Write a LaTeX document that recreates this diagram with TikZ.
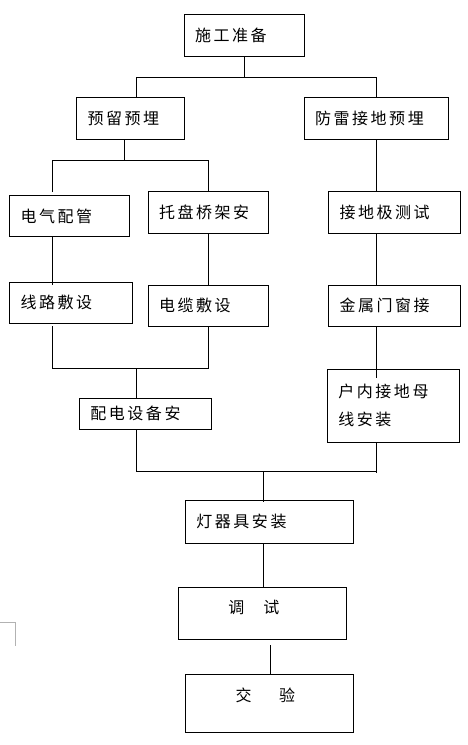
\documentclass[tikz,border=0pt]{standalone}
\usepackage{fontspec}
\newfontfamily\cjk[LetterSpace=16]{Noto Sans CJK SC}
\begin{document}
\begin{tikzpicture}[x=1pt,y=-1pt,
  box/.style={draw, line width=0.8pt, fill=white, anchor=north west, outer sep=0pt,
    inner xsep=11pt, inner ysep=0pt, align=left,
    font=\cjk\fontsize{16}{28}\selectfont},
  link/.style={line width=0.8pt},
  cornermark/.style={draw=gray!60, line width=0.8pt}]
\useasboundingbox (0,0) rectangle (468,745);
% boxes
\node[box, minimum width=120pt, text width=98pt, minimum height=42pt] (n1) at (184,14) {施工准备};
\node[box, minimum width=107.5pt, text width=85.5pt, minimum height=41.5pt] (n2) at (76.5,97.5) {预留预埋};
\node[box, minimum width=144pt, text width=122pt, minimum height=41.5pt] (n3) at (304,97.5) {防雷接地预埋};
\node[box, minimum width=120pt, text width=98pt, minimum height=41pt] (n4) at (9.5,195.5) {电气配管};
\node[box, minimum width=120.5pt, text width=98.5pt, minimum height=41.5pt] (n5) at (148,191.5) {托盘桥架安};
\node[box, minimum width=132pt, text width=110pt, minimum height=41.5pt] (n6) at (328.5,191.5) {接地极测试};
\node[box, minimum width=123pt, text width=101pt, minimum height=41pt] (n7) at (9.5,282.3) {线路敷设};
\node[box, minimum width=120.5pt, text width=98.5pt, minimum height=41pt] (n8) at (148,285.3) {电缆敷设};
\node[box, minimum width=132pt, text width=110pt, minimum height=41pt] (n9) at (328.5,285.3) {金属门窗接};
\node[box, minimum width=132pt, text width=110pt, minimum height=31pt] (n10) at (79.3,398.3) {配电设备安};
\node[box, minimum width=132pt, text width=110pt, minimum height=73pt] (n11) at (327.3,369.3) {户内接地母\\线安装};
\node[box, minimum width=168pt, text width=146pt, minimum height=43pt] (n12) at (185.3,500.3) {灯器具安装};
\node[box, minimum width=168pt, text width=146pt, minimum height=51.6pt, text height=12pt, text depth=12pt] (n13) at (178.3,587.7) {\hspace*{39pt}调\hspace{19pt}试};
\node[box, minimum width=168pt, text width=146pt, minimum height=58pt, text height=10pt, text depth=14pt] (n14) at (185.3,674.3) {\hspace*{39.4pt}交\hspace{27.5pt}验};
% junction coordinates
\coordinate (b1) at (136.3,77);
\coordinate (b2) at (376,77);
\coordinate (c0) at (124.5,160);
\coordinate (c1) at (52.5,160);
\coordinate (c2) at (208.5,160);
\coordinate (c1e) at (52.5,192);
\coordinate (d1) at (52.5,285);
\coordinate (e0) at (136.5,368.3);
\coordinate (e1) at (52.5,368.3);
\coordinate (e2) at (208.5,368.3);
\coordinate (r1) at (376,378);
\coordinate (f1) at (136.5,471);
\coordinate (f2) at (376,471);
\coordinate (f3) at (376,472.7);
\coordinate (g0) at (263.3,471);
\coordinate (g1) at (263.3,502.3);
\coordinate (h0) at (270.3,645);
\coordinate (m0) at (0,622.3);
\coordinate (m1) at (15.3,622.3);
\coordinate (m2) at (15.3,645.7);
% connectors
\draw[link] (n1.south) -- (n1.south |- b1);
\draw[link] (b1 |- n2.north) -- (b1) -- (b2) -- (b2 |- n3.north);
\draw[link] (c0 |- n2.south) -- (c0);
\draw[link] (c1e) -- (c1) -- (c2) -- (c2 |- n5.north);
\draw[link] (b2 |- n3.south) -- (b2 |- n6.north);
\draw[link] (c1 |- n4.south) -- (d1);
\draw[link] (c2 |- n5.south) -- (c2 |- n8.north);
\draw[link] (b2 |- n6.south) -- (b2 |- n9.north);
\draw[link] (e1 |- n8.south) -- (e1) -- (e2) -- (e2 |- n8.south);
\draw[link] (e0) -- (e0 |- n10.north);
\draw[link] (e0 |- n10.south) -- (f1) -- (f2);
\draw[link] (b2 |- n9.south) -- (r1);
\draw[link] (b2 |- n11.south) -- (f3);
\draw[link] (g0) -- (g1);
\draw[link] (g0 |- n12.south) -- (g0 |- n13.north);
\draw[link] (h0) -- (h0 |- n14.north);
\draw[cornermark] (m0) -- (m1) -- (m2);
\end{tikzpicture}
\end{document}
